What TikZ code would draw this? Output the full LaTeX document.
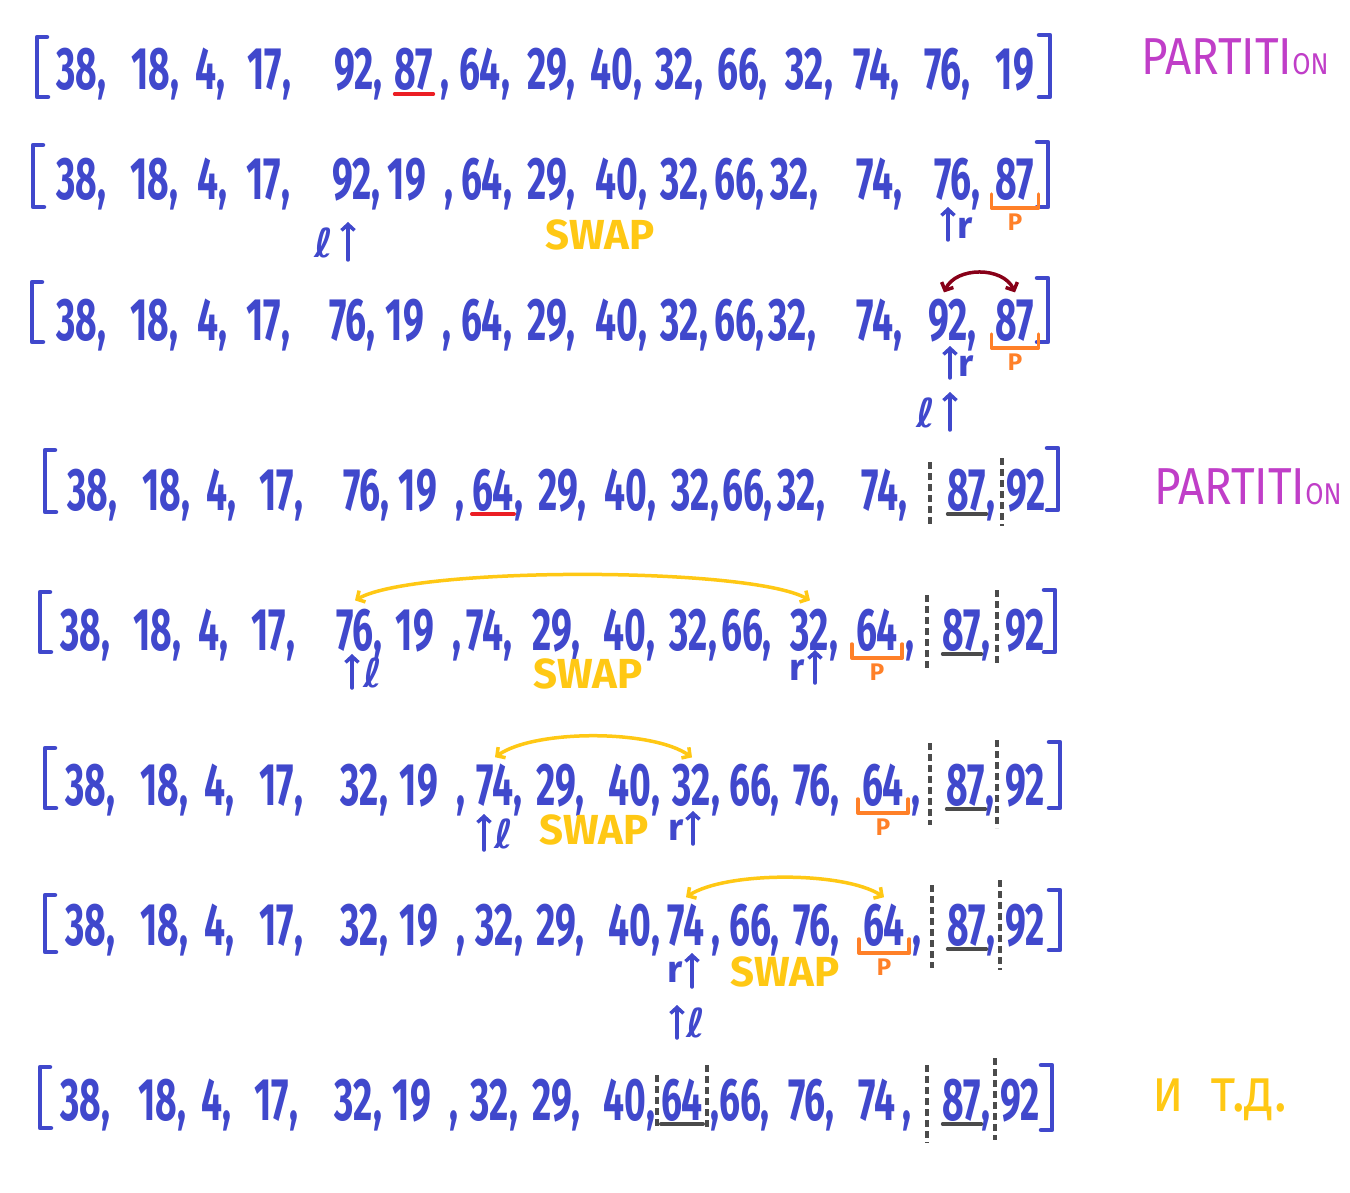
\documentclass[tikz,border=0pt]{standalone}
\usepackage{fontspec}
\setmainfont{Fira Sans}
\newfontfamily\ellfont{DejaVu Sans}
\usepackage{graphicx}
\usetikzlibrary{arrows.meta,calc}
\definecolor{hwblue}{RGB}{64,72,204}
\definecolor{hwmag}{RGB}{192,62,200}
\definecolor{hwyel}{RGB}{255,200,20}
\definecolor{hworg}{RGB}{255,128,40}
\definecolor{hwdred}{RGB}{136,0,24}
\definecolor{hwred}{RGB}{235,30,36}
\definecolor{hwgray}{RGB}{75,75,75}
\newcommand\sq[1]{\scalebox{0.62}[1]{#1}}
\newcommand\cma{\rlap{\smash{,}}}
\newcommand\cmb{\rlap{\kern12pt\smash{,}}}
\newcommand\cmf{\rlap{\kern30pt\smash{,}}}
\newcommand\cmn{}
\newcommand\hwrow[3]{%
  \foreach \x/\t/\k [count=\i] in {#3} {%
    \node[num] (n#1-\i) at (\x,#2) {\sq{\t\csname cm\k\endcsname}};}}
\begin{document}
\begin{tikzpicture}[x=1pt,y=-1pt,
  num/.style={font=\fontsize{60}{60}\selectfont\bfseries, text=hwblue, anchor=base, inner sep=0pt},
  brk/.style={draw=hwblue, line width=4.5pt, line cap=round, line join=round},
  ptr/.style={draw=hwblue, line width=3.5pt, line cap=round, -{Straight Barb[length=6pt,width=13pt]}},
  ltr/.style={text=hwblue, inner sep=0pt, font=\fontsize{40}{40}\selectfont\ellfont\bfseries},
  rtr/.style={text=hwblue, inner sep=0pt, font=\fontsize{38}{38}\selectfont\bfseries},
  swaptxt/.style={text=hwyel, inner sep=0pt, font=\fontsize{42}{42}\selectfont\bfseries},
  parttxt/.style={text=hwmag, inner sep=0pt, font=\fontsize{52}{52}\selectfont},
  plab/.style={text=hworg, inner sep=0pt, font=\fontsize{24}{24}\selectfont\bfseries},
  pbr/.style={draw=hworg, line width=3.5pt, line cap=round, line join=round},
  rul/.style={draw=hwred, line width=3.5pt, line cap=round},
  gul/.style={draw=hwgray, line width=3.5pt, line cap=round},
  sepl/.style={draw=hwgray, line width=3.5pt, dash pattern=on 7pt off 4pt},
  yarc/.style={draw=hwyel, line width=3.5pt, line cap=round, {Straight Barb[length=6pt,width=13pt]}-{Straight Barb[length=6pt,width=13pt]}},
  darc/.style={draw=hwdred, line width=3.5pt, line cap=round, {Straight Barb[length=6pt,width=13pt]}-{Straight Barb[length=6pt,width=13pt]}}
]
\fill[white] (0,0) rectangle (1350,1193);
\useasboundingbox (0,0) rectangle (1350,1193);

% ---------- Row 1
\draw[brk] (47,37) -- (37,37) -- (37,97) -- (48,97);
\hwrow{1}{90}{77/38/a,151/18/a,206/4/a,265/17/a,354/92/a,414/87/b,480/64/a,547/29/a,612/40/a,675/32/a,738/66/a,805/32/a,872/74/a,943/76/a,1015/19/n}
\draw[brk] (1039,35) -- (1050,35) -- (1050,97) -- (1039,97);
\draw[rul] ([yshift=-4pt]n1-6.base west) -- ([yshift=-4pt]n1-6.base east);
\node[parttxt] (part1) at (1235,57) {\scalebox{0.88}[1]{PARTITI{\fontsize{30}{30}\selectfont ON}}};

% ---------- Row 2
\draw[brk] (43,145) -- (33,145) -- (33,207) -- (44,207);
\hwrow{2}{200}{77/38/a,150/18/a,208/4/a,264/17/a,352/92/a,407/19/f,482/64/a,547/29/a,617/40/a,680/32/a,735/66/a,790/32/a,875/74/a,953/76/a,1015/87/n}
\draw[brk] (1037,142) -- (1048,142) -- (1048,207) -- (1037,207);
\draw[pbr] ([xshift=-4pt,yshift=6pt]n2-15.base west) -- ([xshift=-4pt,yshift=-8pt]n2-15.base west) -- ([xshift=4pt,yshift=-8pt]n2-15.base east) -- ([xshift=4pt,yshift=6pt]n2-15.base east);
\node[plab] (p2) at ([yshift=-22pt]n2-15.base) {P};
\node[ltr] (l2) at (324,243) {ℓ};
\coordinate (l2a) at (348,260); \coordinate (l2b) at (348,222);
\draw[ptr] (l2a) -- (l2b);
\coordinate (r2a) at (948,240); \coordinate (r2b) at (948,207);
\draw[ptr] (r2a) -- (r2b);
\node[rtr] (r2) at (965,228) {r};
\node[swaptxt] (sw2) at (600,235) {SWAP};

% ---------- Row 3
\draw[brk] (42,282) -- (32,282) -- (32,342) -- (43,342);
\hwrow{3}{340}{77/38/a,150/18/a,208/4/a,264/17/a,348/76/a,405/19/f,482/64/a,547/29/a,617/40/a,680/32/a,735/66/a,788/32/a,875/74/a,948/92/a,1015/87/n}
\draw[brk] (1037,278) -- (1048,278) -- (1048,342) -- (1037,342);
\draw[pbr] ([xshift=-4pt,yshift=6pt]n3-15.base west) -- ([xshift=-4pt,yshift=-8pt]n3-15.base west) -- ([xshift=4pt,yshift=-8pt]n3-15.base east) -- ([xshift=4pt,yshift=6pt]n3-15.base east);
\node[plab] (p3) at ([yshift=-22pt]n3-15.base) {P};
\draw[darc] ([xshift=-4pt,yshift=6pt]n3-14.north) .. controls +(12,-26) and +(-12,-26) .. ([yshift=6pt]n3-15.north);
\coordinate (r3a) at (950,378); \coordinate (r3b) at (950,346);
\draw[ptr] (r3a) -- (r3b);
\node[rtr] (r3) at (966,366) {r};
\node[ltr] (l3) at (926,413) {ℓ};
\coordinate (l3a) at (950,430); \coordinate (l3b) at (950,392);
\draw[ptr] (l3a) -- (l3b);

% ---------- Row 4
\draw[brk] (55,450) -- (45,450) -- (45,512) -- (56,512);
\hwrow{4}{510}{88/38/a,162/18/a,217/4/a,277/17/a,362/76/a,418/19/f,493/64/a,558/29/a,626/40/a,691/32/a,743/66/a,797/32/a,880/74/a,967/87/a,1026/92/n}
\draw[brk] (1047,448) -- (1058,448) -- (1058,510) -- (1047,510);
\draw[rul] ([yshift=-4pt]n4-7.base west) -- ([yshift=-4pt]n4-7.base east);
\draw[gul] ([yshift=-4pt]n4-14.base west) -- ([yshift=-4pt]n4-14.base east);
\coordinate (s4a) at (930,462); \coordinate (s4b) at (930,526);
\coordinate (s4c) at (1002,458); \coordinate (s4d) at (1002,526);
\draw[sepl] (s4a) -- (s4b); \draw[sepl] (s4c) -- (s4d);
\node[parttxt] (part4) at (1248,487) {\scalebox{0.88}[1]{PARTITI{\fontsize{30}{30}\selectfont ON}}};

% ---------- Row 5
\draw[brk] (50,592) -- (40,592) -- (40,652) -- (51,652);
\hwrow{5}{650}{81/38/a,153/18/a,209/4/a,269/17/a,355/76/a,415/19/f,485/74/a,552/29/a,625/40/a,689/32/a,742/66/a,810/32/a,877/64/b,962/87/a,1025/92/n}
\draw[brk] (1044,590) -- (1055,590) -- (1055,652) -- (1044,652);
\draw[pbr] ([xshift=-4pt,yshift=6pt]n5-13.base west) -- ([xshift=-4pt,yshift=-8pt]n5-13.base west) -- ([xshift=4pt,yshift=-8pt]n5-13.base east) -- ([xshift=4pt,yshift=6pt]n5-13.base east);
\node[plab] (p5) at ([yshift=-22pt]n5-13.base) {P};
\draw[gul] ([yshift=-4pt]n5-14.base west) -- ([yshift=-4pt]n5-14.base east);
\coordinate (s5a) at (927,595); \coordinate (s5b) at (927,668);
\coordinate (s5c) at (997,590); \coordinate (s5d) at (997,665);
\draw[sepl] (s5a) -- (s5b); \draw[sepl] (s5c) -- (s5d);
\draw[yarc] ([yshift=8pt]n5-5.north) .. controls +(60,-34) and +(-60,-34) .. ([yshift=8pt]n5-12.north);
\coordinate (l5a) at (352,688); \coordinate (l5b) at (352,654);
\draw[ptr] (l5a) -- (l5b);
\node[ltr] (l5) at (373,673) {ℓ};
\node[rtr] (r5) at (797,670) {r};
\coordinate (r5a) at (815,683); \coordinate (r5b) at (815,650);
\draw[ptr] (r5a) -- (r5b);
\node[swaptxt] (sw5) at (588,674) {SWAP};

% ---------- Row 6
\draw[brk] (55,748) -- (45,748) -- (45,808) -- (56,808);
\hwrow{6}{805}{86/38/a,160/18/a,215/4/a,277/17/a,360/32/a,419/19/f,495/74/a,556/29/a,630/40/a,692/32/a,750/66/a,812/76/a,883/64/b,966/87/a,1025/92/n}
\draw[brk] (1049,742) -- (1060,742) -- (1060,808) -- (1049,808);
\draw[pbr] ([xshift=-4pt,yshift=6pt]n6-13.base west) -- ([xshift=-4pt,yshift=-8pt]n6-13.base west) -- ([xshift=4pt,yshift=-8pt]n6-13.base east) -- ([xshift=4pt,yshift=6pt]n6-13.base east);
\node[plab] (p6) at ([yshift=-22pt]n6-13.base) {P};
\draw[gul] ([yshift=-4pt]n6-14.base west) -- ([yshift=-4pt]n6-14.base east);
\coordinate (s6a) at (930,743); \coordinate (s6b) at (930,825);
\coordinate (s6c) at (997,740); \coordinate (s6d) at (997,828);
\draw[sepl] (s6a) -- (s6b); \draw[sepl] (s6c) -- (s6d);
\draw[yarc] ([yshift=6pt]n6-7.north) .. controls +(40,-28) and +(-40,-28) .. ([yshift=6pt]n6-10.north);
\coordinate (l6a) at (484,850); \coordinate (l6b) at (484,814);
\draw[ptr] (l6a) -- (l6b);
\node[ltr] (l6) at (504,834) {ℓ};
\node[rtr] (r6) at (676,830) {r};
\coordinate (r6a) at (693,844); \coordinate (r6b) at (693,811);
\draw[ptr] (r6a) -- (r6b);
\node[swaptxt] (sw6) at (594,830) {SWAP};

% ---------- Row 7
\draw[brk] (55,895) -- (45,895) -- (45,952) -- (56,952);
\hwrow{7}{945}{86/38/a,160/18/a,215/4/a,277/17/a,360/32/a,419/19/f,495/32/a,556/29/a,630/40/a,686/74/b,750/66/a,812/76/a,884/64/b,967/87/a,1025/92/n}
\draw[brk] (1049,890) -- (1060,890) -- (1060,950) -- (1049,950);
\draw[pbr] ([xshift=-4pt,yshift=6pt]n7-13.base west) -- ([xshift=-4pt,yshift=-8pt]n7-13.base west) -- ([xshift=4pt,yshift=-8pt]n7-13.base east) -- ([xshift=4pt,yshift=6pt]n7-13.base east);
\node[plab] (p7) at ([yshift=-22pt]n7-13.base) {P};
\draw[gul] ([yshift=-4pt]n7-14.base west) -- ([yshift=-4pt]n7-14.base east);
\coordinate (s7a) at (932,885); \coordinate (s7b) at (932,968);
\coordinate (s7c) at (1000,880); \coordinate (s7d) at (1000,970);
\draw[sepl] (s7a) -- (s7b); \draw[sepl] (s7c) -- (s7d);
\draw[yarc] ([yshift=6pt]n7-10.north) .. controls +(40,-26) and +(-40,-26) .. ([yshift=6pt]n7-13.north);
\node[rtr] (r7) at (675,972) {r};
\coordinate (r7a) at (692,987); \coordinate (r7b) at (692,953);
\draw[ptr] (r7a) -- (r7b);
\coordinate (l7a) at (677,1038); \coordinate (l7b) at (677,1005);
\draw[ptr] (l7a) -- (l7b);
\node[ltr] (l7) at (696,1023) {ℓ};
\node[swaptxt] (sw7) at (785,972) {SWAP};

% ---------- Row 8
\draw[brk] (50,1067) -- (40,1067) -- (40,1128) -- (51,1128);
\hwrow{8}{1120}{81/38/a,158/18/a,212/4/a,272/17/a,354/32/a,412/19/f,490/32/a,552/29/a,625/40/a,682/64/b,740/66/a,807/76/a,877/74/b,962/87/a,1020/92/n}
\draw[brk] (1041,1065) -- (1052,1065) -- (1052,1130) -- (1041,1130);
\draw[gul] ([yshift=-4pt]n8-10.base west) -- ([yshift=-4pt]n8-10.base east);
\draw[gul] ([yshift=-4pt]n8-14.base west) -- ([yshift=-4pt]n8-14.base east);
\coordinate (s8a) at (657,1075); \coordinate (s8b) at (657,1128);
\coordinate (s8c) at (707,1065); \coordinate (s8d) at (707,1128);
\coordinate (s8e) at (927,1065); \coordinate (s8f) at (927,1143);
\coordinate (s8g) at (995,1058); \coordinate (s8h) at (995,1140);
\draw[sepl] (s8a) -- (s8b); \draw[sepl] (s8c) -- (s8d);
\draw[sepl] (s8e) -- (s8f); \draw[sepl] (s8g) -- (s8h);
\node[text=hwyel, inner sep=0pt, font=\fontsize{62}{62}\selectfont] (etc) at (1220,1100) {\scalebox{0.85}[1]{и\hspace{32pt}т.д.}};
\end{tikzpicture}
\end{document}
